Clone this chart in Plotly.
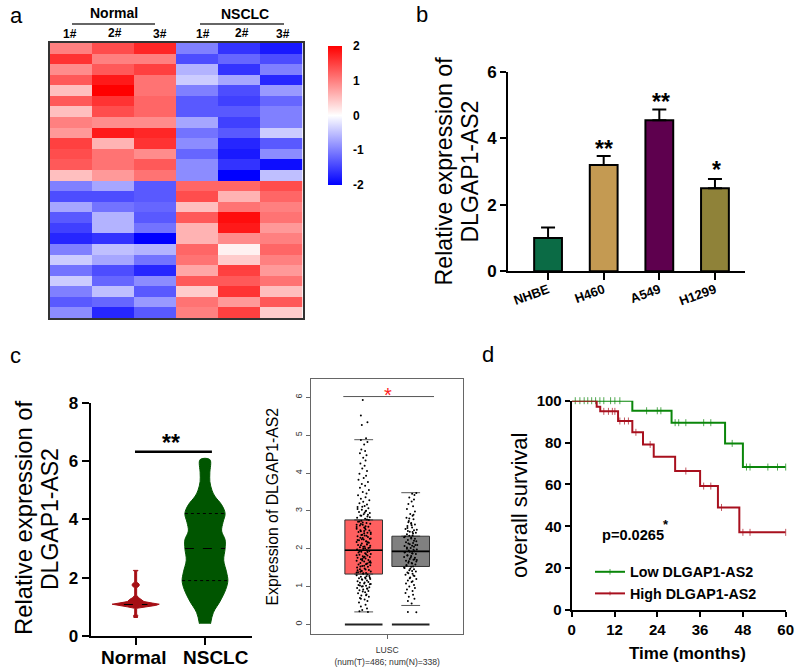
import plotly.graph_objects as go

FONT = "Liberation Sans"

# panel a
heat_values = [
    [1.0, 1.4, 1.7, -1.0, -1.6, -1.8],
    [1.6, 1.0, 1.0, -1.4, -1.2, -1.4],
    [0.9, 1.3, 1.5, -0.6, -1.6, -1.0],
    [1.3, 1.8, 1.1, -0.4, -0.7, -1.7],
    [0.5, 2.0, 1.1, -1.0, -1.4, -0.8],
    [1.3, 1.6, 1.2, -1.3, -1.5, -1.2],
    [0.5, 1.4, 1.2, -1.3, -1.3, -1.0],
    [1.0, 0.9, 0.9, -0.7, -1.5, -1.0],
    [0.8, 1.8, 1.7, -1.1, -1.3, -0.4],
    [1.5, 0.6, 1.6, -0.9, -1.7, -1.3],
    [1.4, 1.1, 0.9, -1.2, -1.8, -0.9],
    [1.3, 1.1, 1.3, -0.9, -1.6, -1.9],
    [0.5, 0.8, 1.1, -0.9, -2.0, -0.5],
    [-1.0, -0.7, -1.3, 1.2, 1.2, 1.4],
    [-1.4, -1.4, -1.3, 1.4, 0.6, 1.2],
    [-0.7, -1.1, -1.2, 0.5, 1.1, 1.0],
    [-1.3, -0.6, -1.3, 1.3, 1.9, 1.1],
    [-1.5, -0.6, -1.1, 0.6, 1.8, 0.8],
    [-1.7, -1.6, -2.0, 0.6, 0.9, 1.0],
    [-1.0, -0.5, -0.6, 1.2, 0.1, 1.2],
    [-0.4, -0.7, -1.1, 1.1, 0.4, 1.0],
    [-1.1, -1.4, -1.7, 0.7, 1.5, 0.8],
    [-0.4, -1.2, -0.9, 1.3, 1.3, 1.1],
    [-1.0, -0.5, -1.3, 0.4, 1.6, 0.5],
    [-1.3, -1.2, -0.8, 1.1, 0.8, 1.3],
    [-0.9, -1.7, -1.3, 1.0, 1.5, 0.4],
]

# panel b
cell_lines = ["NHBE", "H460", "A549", "H1299"]
cell_expr = [1.0, 3.2, 4.55, 2.5]
cell_err = [0.32, 0.27, 0.32, 0.28]
cell_colors = ["#0b6b45", "#c49a52", "#5e004e", "#8f8239"]

# panel c, violins
violin_groups = ["Normal", "NSCLC"]
normal_y = [0.62, 0.70, 0.75, 0.95, 1.00, 1.05, 1.09, 1.13, 1.18, 1.25, 1.32, 1.40, 1.65, 1.72, 1.78, 1.85, 2.20, 2.25]
normal_halfwidth = [0.024, 0.03, 0.014, 0.014, 0.12, 0.29, 0.34, 0.24, 0.12, 0.09, 0.04, 0.014, 0.014, 0.05, 0.05, 0.014, 0.014, 0.034]
nsclc_y = [0.42, 0.8, 1.2, 1.6, 1.9, 2.2, 2.6, 3.0, 3.3, 3.6, 3.9, 4.2, 4.5, 4.8, 5.0, 5.3, 5.6, 6.05]
nsclc_halfwidth = [0.08, 0.12, 0.22, 0.30, 0.33, 0.31, 0.27, 0.29, 0.29, 0.24, 0.26, 0.29, 0.24, 0.14, 0.10, 0.07, 0.07, 0.07]
nsclc_quart = [1.9, 3.0, 4.2]

# panel c, boxes
box_q1 = [1.33, 1.53]
box_median = [1.96, 1.93]
box_q3 = [2.76, 2.33]
box_low = [0.33, 0.50]
box_high = [4.88, 3.48]
tumor_dot_y = [
    5.93, 5.52, 5.34, 5.27, 4.92, 4.87, 4.82, 4.75, 4.62, 4.58,
    4.52, 4.47, 4.40, 4.33, 4.25, 4.19, 4.12, 4.05, 3.98, 3.93,
    3.87, 3.82, 3.76, 3.71, 3.66, 3.61, 3.55, 3.50, 3.46, 3.41,
    3.36, 3.32, 3.28, 3.24, 3.20, 3.17, 3.13, 3.10, 3.07, 3.03,
    3.00, 2.97, 2.94, 2.91, 2.88, 2.85, 2.82, 2.79, 2.76, 2.74,
    2.71, 2.68, 2.66, 2.63, 2.61, 2.58, 2.56, 2.53, 2.51, 2.48,
    2.46, 2.44, 2.42, 2.39, 2.37, 2.35, 2.33, 2.31, 2.29, 2.26,
    2.24, 2.22, 2.20, 2.18, 2.16, 2.14, 2.12, 2.10, 2.08, 2.06,
    2.04, 2.02, 2.00, 1.98, 1.96, 1.94, 1.92, 1.90, 1.88, 1.86,
    1.84, 1.82, 1.80, 1.78, 1.76, 1.74, 1.72, 1.70, 1.68, 1.66,
    1.64, 1.62, 1.60, 1.58, 1.56, 1.54, 1.52, 1.50, 1.48, 1.46,
    1.44, 1.42, 1.40, 1.38, 1.36, 1.34, 1.32, 1.30, 1.28, 1.26,
    1.24, 1.22, 1.20, 1.18, 1.16, 1.14, 1.12, 1.10, 1.08, 1.06,
    1.04, 1.02, 1.00, 0.98, 0.96, 0.94, 0.92, 0.90, 0.88, 0.85,
    0.82, 0.79, 0.76, 0.73, 0.70, 0.66, 0.62, 0.58, 0.52, 0.47,
    0.42, 0.38, 0.35, 0.33, 2.57, 2.27, 1.97, 1.67, 1.37, 1.07,
    3.05, 2.83, 2.63, 2.43, 2.23, 2.03, 1.83, 1.63, 1.43, 1.23,
    2.95, 2.87, 2.77, 2.69, 2.59, 2.49, 2.41, 2.34, 2.25, 2.17,
    2.09, 2.01, 1.93, 1.85, 1.77, 1.69, 1.61, 1.53, 1.45, 1.35,
    1.27, 1.19, 1.11, 1.03, 0.95, 0.87, 0.77, 0.68, 2.90, 2.72,
    2.54, 2.36, 2.19, 2.05, 1.91, 1.73, 1.55, 1.39, 1.21, 1.01,
    3.11, 2.99, 2.65, 2.47, 2.28, 2.11, 1.95, 1.79, 1.59, 1.41,
]
tumor_dot_off = [
    -0.02, -0.06, 0.08, -0.04, 0.05, -0.06, 0.08, 0.01, -0.05, 0.03,
    -0.08, 0.06, -0.01, 0.04, -0.07, 0.02, -0.03, 0.07, -0.09, 0.05,
    0.00, -0.11, 0.09, -0.04, 0.03, -0.08, 0.11, -0.02, 0.06, -0.12,
    0.04, -0.06, 0.12, -0.01, -0.09, 0.07, 0.02, -0.13, 0.10, -0.04,
    0.05, -0.10, 0.13, 0.00, -0.07, 0.08, -0.14, 0.03, 0.11, -0.05,
    -0.12, 0.06, 0.14, -0.02, -0.08, 0.10, 0.01, -0.15, 0.04, 0.12,
    -0.06, -0.11, 0.08, 0.15, -0.03, 0.02, -0.13, 0.09, -0.07, 0.13,
    0.00, -0.10, 0.05, -0.15, 0.11, -0.04, 0.07, -0.12, 0.14, 0.02,
    -0.08, 0.10, -0.01, -0.14, 0.06, 0.12, -0.05, -0.11, 0.03, 0.15,
    -0.09, 0.08, -0.02, 0.13, -0.13, 0.04, -0.06, 0.10, -0.15, 0.01,
    0.12, -0.07, 0.06, -0.11, 0.14, -0.03, 0.09, -0.14, 0.02, -0.08,
    0.11, -0.05, 0.15, -0.12, 0.05, -0.01, 0.08, -0.15, 0.12, -0.06,
    0.03, -0.10, 0.14, -0.03, 0.07, -0.13, 0.10, -0.08, 0.01, 0.13,
    -0.11, 0.05, -0.04, 0.12, -0.14, 0.08, -0.01, -0.09, 0.10, 0.03,
    -0.12, 0.06, -0.05, 0.11, -0.08, 0.02, 0.08, -0.10, 0.04, -0.06,
    0.07, -0.03, -0.09, 0.09, -0.15, 0.15, -0.14, 0.14, -0.15, 0.15,
    -0.13, 0.13, -0.15, 0.15, -0.13, 0.13, -0.15, 0.15, -0.13, 0.13,
    0.02, -0.05, 0.07, -0.02, 0.04, -0.07, 0.01, 0.06, -0.04, 0.09,
    -0.06, 0.03, -0.09, 0.05, 0.00, -0.03, 0.08, -0.07, 0.04, -0.01,
    0.06, -0.04, 0.02, -0.08, 0.07, -0.02, 0.05, -0.06, 0.09, -0.09,
    0.03, -0.05, 0.06, -0.01, 0.08, -0.03, 0.01, -0.07, 0.04, -0.02,
    -0.03, 0.04, -0.06, 0.01, -0.02, 0.07, -0.08, 0.02, 0.05, -0.04,
]
normal_dot_y = [
    3.47, 3.45, 3.42, 3.35, 3.30, 3.25, 3.18, 3.12, 3.05, 2.98,
    2.92, 2.87, 2.82, 2.78, 2.73, 2.68, 2.64, 2.60, 2.56, 2.52,
    2.49, 2.45, 2.42, 2.38, 2.35, 2.32, 2.29, 2.26, 2.23, 2.20,
    2.17, 2.15, 2.12, 2.10, 2.07, 2.05, 2.02, 2.00, 1.98, 1.95,
    1.93, 1.91, 1.88, 1.86, 1.83, 1.81, 1.78, 1.76, 1.73, 1.71,
    1.68, 1.66, 1.63, 1.61, 1.58, 1.55, 1.52, 1.49, 1.46, 1.43,
    1.40, 1.37, 1.34, 1.31, 1.28, 1.24, 1.20, 1.16, 1.12, 1.08,
    1.04, 1.00, 0.96, 0.92, 0.88, 0.83, 0.78, 0.73, 0.68, 0.62,
    0.55, 0.33, 0.32, 2.50, 2.30, 2.10, 1.90, 1.70, 1.50, 2.70,
    2.62, 2.47, 2.40, 2.34, 2.27, 2.21, 2.14, 2.08, 2.03, 1.97,
    1.92, 1.87, 1.82, 1.77, 1.72, 1.67, 1.62, 1.57, 1.53, 1.47,
    1.41, 1.35, 1.29, 1.22, 1.14, 2.90, 2.80, 2.66, 2.55, 2.44,
]
normal_dot_off = [
    0.12, 0.03, 0.08, -0.03, 0.07, 0.02, -0.05, 0.05, -0.08, 0.09,
    -0.01, 0.04, -0.09, 0.06, -0.04, 0.01, 0.09, -0.07, 0.03, -0.11,
    0.07, -0.02, 0.11, -0.08, 0.04, -0.12, 0.01, 0.09, -0.06, 0.12,
    -0.10, 0.05, -0.02, 0.10, -0.13, 0.07, 0.00, -0.08, 0.13, -0.04,
    0.08, -0.12, 0.03, 0.11, -0.07, 0.01, -0.14, 0.09, -0.02, 0.06,
    -0.10, 0.12, -0.05, 0.03, 0.10, -0.09, 0.01, -0.13, 0.07, -0.03,
    0.11, -0.07, 0.04, -0.11, 0.08, -0.01, 0.12, -0.06, 0.02, -0.10,
    0.07, -0.03, 0.09, -0.08, 0.04, -0.11, 0.05, -0.04, 0.08, -0.06,
    0.02, -0.06, 0.12, 0.13, -0.14, 0.14, -0.13, 0.13, -0.14, -0.05,
    0.02, -0.06, 0.05, -0.03, 0.01, 0.07, -0.05, 0.03, -0.08, 0.06,
    -0.02, 0.04, -0.07, 0.00, 0.08, -0.04, 0.02, -0.09, 0.05, -0.01,
    0.03, -0.05, 0.06, -0.02, 0.04, 0.06, -0.03, 0.01, -0.07, 0.04,
]

# panel d
low_t = [0, 17, 28, 43, 48, 60]
low_s = [100, 95.2, 89.5, 79.6, 68.3, 68.3]
high_t = [0, 7, 8, 13, 17, 20, 23, 29, 36, 41, 47, 60]
high_s = [100, 97.1, 94.9, 90.3, 84.9, 79.1, 73.2, 66.4, 59.2, 49, 37.1, 37.1]
low_cens_t = [1, 2.3, 3.5, 4.5, 5.6, 6.7, 7.9, 9, 10.9, 12.1, 13.5, 21, 24, 25, 29, 30, 32, 37, 39, 45, 49, 50, 55, 57.7, 60]
low_cens_s = [100] * 11 + [95.2] * 3 + [89.5] * 5 + [79.6] + [68.3] * 5
high_cens_t = [9, 10.3, 11.4, 12.1, 13.5, 14.8, 15.9, 18, 22, 32, 37, 39, 42, 48, 50, 60]
high_cens_s = [94.9] * 4 + [90.3] * 3 + [84.9, 79.1, 66.4, 59.2, 59.2, 49] + [37.1] * 3

FIG_W = 800
FIG_H = 667


def px(x):
    return x / FIG_W


def py(y):
    return 1 - y / FIG_H


def dom_x(a, b):
    return [px(a), px(b)]


def dom_y(top, bottom):
    return [py(bottom), py(top)]


def text(label, x, y, size, bold=True, color="black", **kw):
    return dict(text=label, x=px(x), y=py(y), xref="paper", yref="paper", showarrow=False,
                xanchor="center", yanchor="middle",
                font=dict(family=FONT, size=size, color=color, weight=700 if bold else 400), **kw)


def axis_style(size, ticklen=7):
    return dict(showgrid=False, zeroline=False, showline=True, linecolor="black", linewidth=2,
                ticks="outside", tickcolor="black", tickwidth=2, ticklen=ticklen,
                tickfont=dict(family=FONT, size=size, color="black", weight=700))


def survival_trace(name, color, step_t, step_s, cens_t, cens_s):
    points = sorted([(t, s, 0) for t, s in zip(step_t, step_s)] + [(t, s, 5) for t, s in zip(cens_t, cens_s)],
                    key=lambda p: (p[0], p[2]))
    return go.Scatter(x=[p[0] for p in points], y=[p[1] for p in points], name=name,
                      xaxis="x5", yaxis="y5", mode="lines+markers", cliponaxis=False,
                      line=dict(color=color, width=2, shape="hv"),
                      marker=dict(symbol="line-ns", size=[p[2] for p in points], line=dict(color=color, width=1)))


fig = go.Figure()

# a: heatmap
fig.add_trace(go.Heatmap(
    z=heat_values, xaxis="x", yaxis="y", zmin=-2, zmax=2,
    colorscale=[[0, "#0000ff"], [0.5, "#ffffff"], [1, "#ff0000"]],
    colorbar=dict(x=px(328), xanchor="left", y=py(46), yanchor="top", xpad=0, ypad=0,
                  thickness=14, lenmode="pixels", len=139, outlinewidth=0,
                  tickvals=[-2, -1, 0, 1, 2], ticktext=["-2", "-1", "0", "1", "2"],
                  ticks="outside", ticklen=9, tickcolor="rgba(0,0,0,0)",
                  tickfont=dict(family=FONT, size=12, color="black", weight=700)),
))

# b: bars
fig.add_trace(go.Bar(
    x=list(range(len(cell_lines))), y=cell_expr, xaxis="x2", yaxis="y2", width=0.5,
    marker=dict(color=cell_colors, line=dict(color="black", width=2)),
    error_y=dict(type="data", symmetric=False, array=cell_err, arrayminus=[0] * 4,
                 color="black", thickness=2, width=7),
    showlegend=False,
))

# c: violins
for i, (ys, hw, col, shape) in enumerate([(normal_y, normal_halfwidth, "#a50f15", "linear"),
                                          (nsclc_y, nsclc_halfwidth, "#005500", "spline")]):
    xs = [i - w for w in hw] + [i + w for w in reversed(hw)]
    fig.add_trace(go.Scatter(x=xs, y=ys + ys[::-1], xaxis="x3", yaxis="y3", mode="lines", fill="toself",
                             fillcolor=col, line=dict(color=col, width=1, shape=shape), showlegend=False))
fig.add_trace(go.Scatter(x=[-0.17, 0.17], y=[1.08, 1.08], xaxis="x3", yaxis="y3", mode="lines",
                         line=dict(color="black", width=1, dash="dash"), showlegend=False))
for q, w, d in zip(nsclc_quart, [0.33, 0.29, 0.29], ["dot", "dash", "dot"]):
    fig.add_trace(go.Scatter(x=[1 - w, 1 + w], y=[q, q], xaxis="x3", yaxis="y3", mode="lines",
                             line=dict(color="black", width=1, dash=d), showlegend=False))
fig.add_trace(go.Scatter(x=[-0.01, 1.1], y=[6.32, 6.32], xaxis="x3", yaxis="y3", mode="lines",
                         line=dict(color="black", width=2.5), showlegend=False))

# c: boxes
for i, col in enumerate(["#ff6060", "#808080"]):
    fig.add_trace(go.Box(x=[i], q1=[box_q1[i]], median=[box_median[i]], q3=[box_q3[i]],
                         lowerfence=[box_q1[i]], upperfence=[box_q3[i]], width=0.8,
                         xaxis="x4", yaxis="y4", fillcolor=col, line=dict(color="#333333", width=1),
                         boxpoints=False, showlegend=False))
    fig.add_trace(go.Scatter(x=[i - 0.4, i + 0.4], y=[box_median[i]] * 2, xaxis="x4", yaxis="y4", mode="lines",
                             line=dict(color="black", width=1.6), showlegend=False))
    fig.add_trace(go.Scatter(x=[i - 0.4, i + 0.4], y=[0, 0], xaxis="x4", yaxis="y4", mode="lines",
                             line=dict(color="#222222", width=2), showlegend=False))
    for fence in (box_low[i], box_high[i]):
        fig.add_trace(go.Scatter(x=[i - 0.2, i + 0.2], y=[fence, fence], xaxis="x4", yaxis="y4", mode="lines",
                                 line=dict(color="#555555", width=1), showlegend=False))
fig.add_trace(go.Scatter(x=[-0.434, 1.496], y=[6.02, 6.02], xaxis="x4", yaxis="y4", mode="lines",
                         line=dict(color="#555555", width=1), showlegend=False))
fig.add_trace(go.Scatter(x=tumor_dot_off, y=tumor_dot_y, xaxis="x4", yaxis="y4", mode="markers",
                         marker=dict(color="black", size=2), showlegend=False))
fig.add_trace(go.Scatter(x=[1 + o for o in normal_dot_off], y=normal_dot_y, xaxis="x4", yaxis="y4", mode="markers",
                         marker=dict(color="black", size=2), showlegend=False))

# d: survival
fig.add_trace(survival_trace("Low DLGAP1-AS2", "#0a860a", low_t, low_s, low_cens_t, low_cens_s))
fig.add_trace(survival_trace("High DLGAP1-AS2", "#a8101e", high_t, high_s, high_cens_t, high_cens_s))

fig.update_layout(
    width=FIG_W, height=FIG_H, autosize=False, margin=dict(l=0, r=0, t=0, b=0, autoexpand=False),
    paper_bgcolor="white", plot_bgcolor="white",
    font=dict(family=FONT, color="black"),
    xaxis=dict(domain=dom_x(49.5, 302.5), range=[-0.5, 5.5], showticklabels=False, ticks="", showgrid=False,
               zeroline=False, showline=True, mirror=True, linecolor="#333333", linewidth=1.5),
    yaxis=dict(domain=dom_y(43, 318), range=[25.5, -0.5], showticklabels=False, ticks="", showgrid=False,
               zeroline=False, showline=True, mirror=True, linecolor="#333333", linewidth=1.5),
    xaxis2=dict(domain=dom_x(508, 745), range=[-0.72, 3.54], anchor="y2", tickvals=[0, 1, 2, 3],
                ticktext=cell_lines, tickangle=-20, ticklabelstandoff=-3, **axis_style(13)),
    yaxis2=dict(domain=dom_y(72, 271.3), range=[0, 6], anchor="x2", tickvals=[0, 2, 4, 6], **axis_style(17, 6)),
    xaxis3=dict(domain=dom_x(90.7, 251.7), range=[-0.649, 1.674], anchor="y3", tickvals=[0, 1],
                showticklabels=False, **axis_style(19)),
    yaxis3=dict(domain=dom_y(402.7, 636), range=[0, 8], anchor="x3", tickvals=[0, 2, 4, 6, 8], **axis_style(17)),
    xaxis4=dict(domain=dom_x(311, 463.3), range=[-1.121, 2.119], anchor="y4", tickvals=[0.5], ticktext=["LUSC<br>(num(T)=486; num(N)=338)"],
                showgrid=False, zeroline=False, showline=True, mirror=True, linecolor="#666666", linewidth=1,
                ticks="outside", ticklen=4, tickcolor="#666666", ticklabelstandoff=4,
                tickfont=dict(family=FONT, size=8.6, color="#333333")),
    yaxis4=dict(domain=dom_y(379.3, 634), range=[-0.254, 6.476], anchor="x4", tickvals=[0, 1, 2, 3, 4, 5, 6], tickangle=-90,
                showgrid=False, zeroline=False, showline=True, mirror=True, linecolor="#666666", linewidth=1,
                ticks="outside", ticklen=4, tickcolor="#666666", tickfont=dict(family=FONT, size=9, color="#333333"),
                title=dict(text="Expression of DLGAP1-AS2", font=dict(family=FONT, size=15.8), standoff=11)),
    xaxis5=dict(domain=dom_x(571.7, 785.7), range=[0, 60], anchor="y5", tickvals=[0, 12, 24, 36, 48, 60],
                **axis_style(15, 5)),
    yaxis5=dict(domain=dom_y(400.7, 610), range=[0, 100], anchor="x5", tickvals=[0, 20, 40, 60, 80, 100],
                title=dict(text="overall survival", font=dict(family=FONT, size=22), standoff=3), **axis_style(15, 5)),
    legend=dict(x=px(590), y=py(556), xanchor="left", yanchor="top", bgcolor="rgba(0,0,0,0)",
                font=dict(family=FONT, size=14.3, color="black", weight=700), itemsizing="trace"),
    shapes=[
        dict(type="line", xref="paper", yref="paper", x0=px(72), x1=px(155), y0=py(24), y1=py(24), line=dict(color="#333333", width=1.5)),
        dict(type="line", xref="paper", yref="paper", x0=px(200), x1=px(284), y0=py(24), y1=py(24), line=dict(color="#333333", width=1.5)),
    ],
    annotations=[
        text("a", 16, 16, 22, bold=False), text("b", 422.5, 15, 22, bold=False),
        text("c", 15.5, 355, 22, bold=False), text("d", 488, 354, 22, bold=False),
        text("Normal", 113.5, 13, 14), text("NSCLC", 245, 14, 14),
        text("1#", 70, 34, 12), text("2#", 115, 33, 12), text("3#", 160, 34, 12),
        text("1#", 203, 34, 12), text("2#", 242, 33, 12), text("3#", 283, 34, 12),
        text("Relative expression of", 444, 171.5, 23.2, bold=False, textangle=-90),
        text("DLGAP1-AS2", 470, 171.5, 23, bold=False, textangle=-90),
        text("Relative expression of", 23, 518, 23.8, bold=False, textangle=-90),
        text("DLGAP1-AS2", 50, 519, 23, bold=False, textangle=-90),
        text(violin_groups[0], 133, 657, 19), text(violin_groups[1], 216, 657, 19),
        text("**", 604, 148.5, 23), text("**", 660.7, 102, 23), text("*", 716.7, 170, 23),
        text("**", 170.7, 443, 23),
        text("*", 388.3, 395, 20, bold=False, color="#ff2020"),
        text("p=0.0265", 632.5, 535, 14.6), text("*", 666, 524, 13),
        text("Time (months)", 687, 653, 17),
    ],
)

# drop the browser's default body margin so the 800x667 figure fills the window
fig.write_html("out.html", config={"displayModeBar": False}, post_script="document.body.style.margin = '0';")
